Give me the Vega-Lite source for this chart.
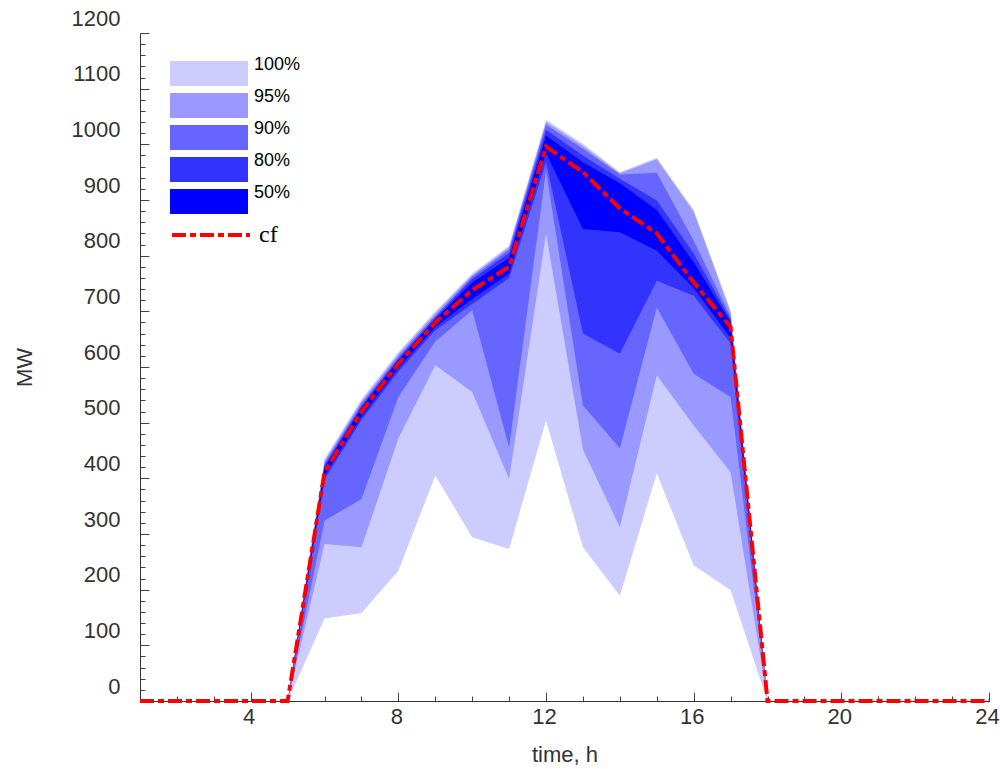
{
  "$schema": "https://vega.github.io/schema/vega-lite/v6.json",
  "width": 849,
  "height": 668,
  "autosize": "none",
  "padding": {"left": 140, "top": 33, "right": 11, "bottom": 68},
  "background": "white",
  "config": {"view": {"stroke": null}, "font": "Liberation Sans"},
  "datasets": {
    "bands": [
      {"hour": 5, "band": "100%", "lo": 0, "hi": 0}, {"hour": 5, "band": "95%", "lo": 0, "hi": 0}, {"hour": 5, "band": "90%", "lo": 0, "hi": 0}, {"hour": 5, "band": "80%", "lo": 0, "hi": 0}, {"hour": 5, "band": "50%", "lo": 0, "hi": 0},
      {"hour": 6, "band": "100%", "lo": 148, "hi": 435}, {"hour": 6, "band": "95%", "lo": 282, "hi": 431}, {"hour": 6, "band": "90%", "lo": 324, "hi": 427}, {"hour": 6, "band": "80%", "lo": 398, "hi": 423}, {"hour": 6, "band": "50%", "lo": 404, "hi": 419},
      {"hour": 7, "band": "100%", "lo": 158, "hi": 542}, {"hour": 7, "band": "95%", "lo": 276, "hi": 538}, {"hour": 7, "band": "90%", "lo": 363, "hi": 534}, {"hour": 7, "band": "80%", "lo": 505, "hi": 530}, {"hour": 7, "band": "50%", "lo": 511, "hi": 527},
      {"hour": 8, "band": "100%", "lo": 234, "hi": 627}, {"hour": 8, "band": "95%", "lo": 472, "hi": 623}, {"hour": 8, "band": "90%", "lo": 546, "hi": 619}, {"hour": 8, "band": "80%", "lo": 592, "hi": 615}, {"hour": 8, "band": "50%", "lo": 598, "hi": 612},
      {"hour": 9, "band": "100%", "lo": 405, "hi": 700}, {"hour": 9, "band": "95%", "lo": 603, "hi": 696}, {"hour": 9, "band": "90%", "lo": 646, "hi": 692}, {"hour": 9, "band": "80%", "lo": 666, "hi": 689}, {"hour": 9, "band": "50%", "lo": 672, "hi": 686},
      {"hour": 10, "band": "100%", "lo": 294, "hi": 768}, {"hour": 10, "band": "95%", "lo": 555, "hi": 765}, {"hour": 10, "band": "90%", "lo": 702, "hi": 762}, {"hour": 10, "band": "80%", "lo": 713, "hi": 758}, {"hour": 10, "band": "50%", "lo": 722, "hi": 752},
      {"hour": 11, "band": "100%", "lo": 273, "hi": 818}, {"hour": 11, "band": "95%", "lo": 399, "hi": 815}, {"hour": 11, "band": "90%", "lo": 456, "hi": 811}, {"hour": 11, "band": "80%", "lo": 760, "hi": 805}, {"hour": 11, "band": "50%", "lo": 768, "hi": 796},
      {"hour": 12, "band": "100%", "lo": 504, "hi": 1044}, {"hour": 12, "band": "95%", "lo": 840, "hi": 1040}, {"hour": 12, "band": "90%", "lo": 953, "hi": 1035}, {"hour": 12, "band": "80%", "lo": 968, "hi": 1026}, {"hour": 12, "band": "50%", "lo": 984, "hi": 1016},
      {"hour": 13, "band": "100%", "lo": 276, "hi": 1001}, {"hour": 13, "band": "95%", "lo": 452, "hi": 997}, {"hour": 13, "band": "90%", "lo": 531, "hi": 992}, {"hour": 13, "band": "80%", "lo": 660, "hi": 980}, {"hour": 13, "band": "50%", "lo": 848, "hi": 968},
      {"hour": 14, "band": "100%", "lo": 189, "hi": 950}, {"hour": 14, "band": "95%", "lo": 312, "hi": 948}, {"hour": 14, "band": "90%", "lo": 454, "hi": 946}, {"hour": 14, "band": "80%", "lo": 624, "hi": 938}, {"hour": 14, "band": "50%", "lo": 842, "hi": 930},
      {"hour": 15, "band": "100%", "lo": 409, "hi": 976}, {"hour": 15, "band": "95%", "lo": 585, "hi": 973}, {"hour": 15, "band": "90%", "lo": 707, "hi": 949}, {"hour": 15, "band": "80%", "lo": 755, "hi": 899}, {"hour": 15, "band": "50%", "lo": 809, "hi": 882},
      {"hour": 16, "band": "100%", "lo": 244, "hi": 882}, {"hour": 16, "band": "95%", "lo": 495, "hi": 879}, {"hour": 16, "band": "90%", "lo": 588, "hi": 827}, {"hour": 16, "band": "80%", "lo": 728, "hi": 804}, {"hour": 16, "band": "50%", "lo": 742, "hi": 788},
      {"hour": 17, "band": "100%", "lo": 199, "hi": 702}, {"hour": 17, "band": "95%", "lo": 411, "hi": 698}, {"hour": 17, "band": "90%", "lo": 546, "hi": 690}, {"hour": 17, "band": "80%", "lo": 642, "hi": 685}, {"hour": 17, "band": "50%", "lo": 652, "hi": 680},
      {"hour": 18, "band": "100%", "lo": 0, "hi": 0}, {"hour": 18, "band": "95%", "lo": 0, "hi": 0}, {"hour": 18, "band": "90%", "lo": 0, "hi": 0}, {"hour": 18, "band": "80%", "lo": 0, "hi": 0}, {"hour": 18, "band": "50%", "lo": 0, "hi": 0}
    ],
    "cf": [
      {"hour": 1, "mw": 0}, {"hour": 2, "mw": 0}, {"hour": 3, "mw": 0}, {"hour": 4, "mw": 0}, {"hour": 5, "mw": 0},
      {"hour": 6, "mw": 411}, {"hour": 7, "mw": 520}, {"hour": 8, "mw": 606}, {"hour": 9, "mw": 680}, {"hour": 10, "mw": 738},
      {"hour": 11, "mw": 780}, {"hour": 12, "mw": 996}, {"hour": 13, "mw": 950}, {"hour": 14, "mw": 885}, {"hour": 15, "mw": 840},
      {"hour": 16, "mw": 752}, {"hour": 17, "mw": 672}, {"hour": 18, "mw": 0}, {"hour": 19, "mw": 0}, {"hour": 20, "mw": 0},
      {"hour": 21, "mw": 0}, {"hour": 22, "mw": 0}, {"hour": 23, "mw": 0}, {"hour": 24, "mw": 0}
    ]
  },
  "resolve": {"axis": {"x": "independent", "y": "independent"}},
  "layer": [
    {
      "data": {"name": "bands"},
      "mark": {"type": "area", "opacity": 1, "interpolate": "linear"},
      "encoding": {
        "x": {
          "field": "hour", "type": "quantitative",
          "scale": {"domain": [1, 24], "nice": false, "zero": false},
          "axis": {
            "orient": "bottom",
            "values": [1,2,3,5,6,7,9,10,11,13,14,15,17,18,19,21,22,23],
            "tickSize": -5, "labels": false, "title": null, "grid": false,
            "domainColor": "#333333", "tickColor": "#444444"
          }
        },
        "y": {
          "field": "hi", "type": "quantitative",
          "scale": {"domain": [0, 1200], "nice": false, "zero": false},
          "axis": {
            "orient": "left",
            "values": [20,40,60,80,120,140,160,180,220,240,260,280,320,340,360,380,420,440,460,480,520,540,560,580,620,640,660,680,720,740,760,780,820,840,860,880,920,940,960,980,1020,1040,1060,1080,1120,1140,1160,1180],
            "tickSize": -5, "labels": false, "title": null, "grid": false,
            "domainColor": "#333333", "tickColor": "#444444"
          }
        },
        "y2": {"field": "lo"},
        "fill": {
          "field": "band", "type": "nominal",
          "scale": {"domain": ["100%", "95%", "90%", "80%", "50%"], "range": ["#ccccff", "#9999ff", "#6666ff", "#3333ff", "#0000ff"]},
          "legend": {
            "orient": "none", "legendX": 56.5, "legendY": 28, "title": null,
            "symbolType": "M-3.12,-1H3.12V1H-3.12Z", "symbolSize": 625,
            "symbolStrokeWidth": 0, "symbolOpacity": 1,
            "labelFontSize": 18, "labelColor": "#000000", "labelOffset": 32.5,
            "labelBaseline": "bottom", "rowPadding": 1, "padding": 0
          }
        }
      }
    },
    {
      "data": {"name": "cf"},
      "mark": {"type": "line", "strokeDash": [14, 4, 6, 4], "strokeWidth": 4},
      "encoding": {
        "x": {
          "field": "hour", "type": "quantitative",
          "axis": {
            "orient": "bottom",
            "values": [4, 8, 12, 16, 20, 24],
            "tickSize": -9,
            "format": "d",
            "title": "time, h",
            "grid": false,
            "domainColor": "#333333",
            "tickColor": "#444444",
            "labelFontSize": 22,
            "labelColor": "#333333",
            "labelPadding": 14,
            "labelOffset": -2,
            "labelFlush": false,
            "labelOverlap": false,
            "titleFontSize": 22,
            "titleFontWeight": "normal",
            "titleColor": "#333333",
            "titlePadding": 17
          }
        },
        "y": {
          "field": "mw", "type": "quantitative",
          "axis": {
            "orient": "left",
            "values": [0,100,200,300,400,500,600,700,800,900,1000,1100,1200],
            "tickSize": -9,
            "format": "d",
            "title": "MW",
            "grid": false,
            "domainColor": "#333333",
            "tickColor": "#444444",
            "labelFontSize": 22,
            "labelColor": "#333333",
            "labelPadding": 29,
            "labelOffset": -15,
            "labelOverlap": false,
            "labelFlush": false,
            "titleFontSize": 22,
            "titleFontWeight": "normal",
            "titleColor": "#333333",
            "titlePadding": 35
          }
        },
        "stroke": {
          "datum": "cf",
          "scale": {"domain": ["cf"], "range": ["#ff0000"]},
          "legend": {
            "orient": "none", "legendX": 30, "legendY": 161, "title": null,
            "symbolType": "stroke", "symbolSize": 6084, "symbolStrokeWidth": 4,
            "symbolDash": [14, 4, 6, 4],
            "labelFont": "Liberation Serif", "labelFontSize": 24, "labelColor": "#000000",
            "labelOffset": 7, "padding": 0
          }
        }
      }
    }
  ]
}
